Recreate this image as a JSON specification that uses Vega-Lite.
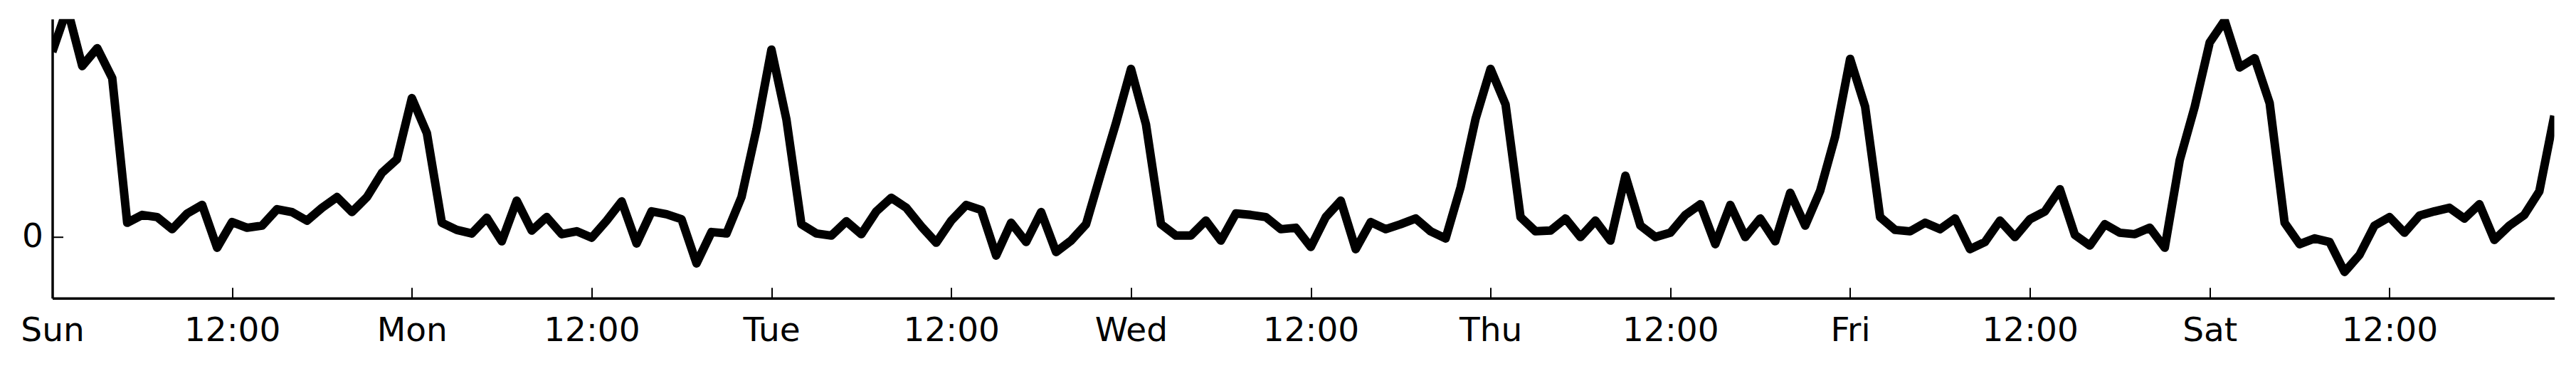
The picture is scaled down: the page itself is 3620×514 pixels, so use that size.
{
  "$schema": "https://vega.github.io/schema/vega-lite/v6.json",
  "width": 3516,
  "height": 392,
  "autosize": {"type": "none"},
  "padding": {"left": 73.5, "top": 26.7, "right": 30.5, "bottom": 95.3},
  "background": "white",
  "config": {"view": {"stroke": null}, "font": "DejaVu Sans"},
  "data": {"values": [
    {"time": "2023-01-01T00:00:00Z", "value": 2.60},
    {"time": "2023-01-01T01:00:00Z", "value": 3.21},
    {"time": "2023-01-01T02:00:00Z", "value": 2.40},
    {"time": "2023-01-01T03:00:00Z", "value": 2.65},
    {"time": "2023-01-01T04:00:00Z", "value": 2.23},
    {"time": "2023-01-01T05:00:00Z", "value": 0.20},
    {"time": "2023-01-01T06:00:00Z", "value": 0.31},
    {"time": "2023-01-01T07:00:00Z", "value": 0.28},
    {"time": "2023-01-01T08:00:00Z", "value": 0.11},
    {"time": "2023-01-01T09:00:00Z", "value": 0.33},
    {"time": "2023-01-01T10:00:00Z", "value": 0.45},
    {"time": "2023-01-01T11:00:00Z", "value": -0.15},
    {"time": "2023-01-01T12:00:00Z", "value": 0.21},
    {"time": "2023-01-01T13:00:00Z", "value": 0.13},
    {"time": "2023-01-01T14:00:00Z", "value": 0.16},
    {"time": "2023-01-01T15:00:00Z", "value": 0.39},
    {"time": "2023-01-01T16:00:00Z", "value": 0.35},
    {"time": "2023-01-01T17:00:00Z", "value": 0.23},
    {"time": "2023-01-01T18:00:00Z", "value": 0.41},
    {"time": "2023-01-01T19:00:00Z", "value": 0.56},
    {"time": "2023-01-01T20:00:00Z", "value": 0.35},
    {"time": "2023-01-01T21:00:00Z", "value": 0.56},
    {"time": "2023-01-01T22:00:00Z", "value": 0.90},
    {"time": "2023-01-01T23:00:00Z", "value": 1.09},
    {"time": "2023-01-02T00:00:00Z", "value": 1.95},
    {"time": "2023-01-02T01:00:00Z", "value": 1.46},
    {"time": "2023-01-02T02:00:00Z", "value": 0.20},
    {"time": "2023-01-02T03:00:00Z", "value": 0.10},
    {"time": "2023-01-02T04:00:00Z", "value": 0.05},
    {"time": "2023-01-02T05:00:00Z", "value": 0.27},
    {"time": "2023-01-02T06:00:00Z", "value": -0.06},
    {"time": "2023-01-02T07:00:00Z", "value": 0.51},
    {"time": "2023-01-02T08:00:00Z", "value": 0.09},
    {"time": "2023-01-02T09:00:00Z", "value": 0.28},
    {"time": "2023-01-02T10:00:00Z", "value": 0.04},
    {"time": "2023-01-02T11:00:00Z", "value": 0.08},
    {"time": "2023-01-02T12:00:00Z", "value": -0.01},
    {"time": "2023-01-02T13:00:00Z", "value": 0.23},
    {"time": "2023-01-02T14:00:00Z", "value": 0.50},
    {"time": "2023-01-02T15:00:00Z", "value": -0.09},
    {"time": "2023-01-02T16:00:00Z", "value": 0.36},
    {"time": "2023-01-02T17:00:00Z", "value": 0.32},
    {"time": "2023-01-02T18:00:00Z", "value": 0.25},
    {"time": "2023-01-02T19:00:00Z", "value": -0.37},
    {"time": "2023-01-02T20:00:00Z", "value": 0.07},
    {"time": "2023-01-02T21:00:00Z", "value": 0.05},
    {"time": "2023-01-02T22:00:00Z", "value": 0.56},
    {"time": "2023-01-02T23:00:00Z", "value": 1.51},
    {"time": "2023-01-03T00:00:00Z", "value": 2.63},
    {"time": "2023-01-03T01:00:00Z", "value": 1.65},
    {"time": "2023-01-03T02:00:00Z", "value": 0.18},
    {"time": "2023-01-03T03:00:00Z", "value": 0.05},
    {"time": "2023-01-03T04:00:00Z", "value": 0.02},
    {"time": "2023-01-03T05:00:00Z", "value": 0.22},
    {"time": "2023-01-03T06:00:00Z", "value": 0.04},
    {"time": "2023-01-03T07:00:00Z", "value": 0.36},
    {"time": "2023-01-03T08:00:00Z", "value": 0.55},
    {"time": "2023-01-03T09:00:00Z", "value": 0.41},
    {"time": "2023-01-03T10:00:00Z", "value": 0.15},
    {"time": "2023-01-03T11:00:00Z", "value": -0.08},
    {"time": "2023-01-03T12:00:00Z", "value": 0.23},
    {"time": "2023-01-03T13:00:00Z", "value": 0.45},
    {"time": "2023-01-03T14:00:00Z", "value": 0.38},
    {"time": "2023-01-03T15:00:00Z", "value": -0.26},
    {"time": "2023-01-03T16:00:00Z", "value": 0.20},
    {"time": "2023-01-03T17:00:00Z", "value": -0.07},
    {"time": "2023-01-03T18:00:00Z", "value": 0.35},
    {"time": "2023-01-03T19:00:00Z", "value": -0.21},
    {"time": "2023-01-03T20:00:00Z", "value": -0.05},
    {"time": "2023-01-03T21:00:00Z", "value": 0.18},
    {"time": "2023-01-03T22:00:00Z", "value": 0.90},
    {"time": "2023-01-03T23:00:00Z", "value": 1.60},
    {"time": "2023-01-04T00:00:00Z", "value": 2.36},
    {"time": "2023-01-04T01:00:00Z", "value": 1.58},
    {"time": "2023-01-04T02:00:00Z", "value": 0.18},
    {"time": "2023-01-04T03:00:00Z", "value": 0.02},
    {"time": "2023-01-04T04:00:00Z", "value": 0.02},
    {"time": "2023-01-04T05:00:00Z", "value": 0.23},
    {"time": "2023-01-04T06:00:00Z", "value": -0.05},
    {"time": "2023-01-04T07:00:00Z", "value": 0.33},
    {"time": "2023-01-04T08:00:00Z", "value": 0.31},
    {"time": "2023-01-04T09:00:00Z", "value": 0.28},
    {"time": "2023-01-04T10:00:00Z", "value": 0.11},
    {"time": "2023-01-04T11:00:00Z", "value": 0.13},
    {"time": "2023-01-04T12:00:00Z", "value": -0.14},
    {"time": "2023-01-04T13:00:00Z", "value": 0.28},
    {"time": "2023-01-04T14:00:00Z", "value": 0.51},
    {"time": "2023-01-04T15:00:00Z", "value": -0.17},
    {"time": "2023-01-04T16:00:00Z", "value": 0.21},
    {"time": "2023-01-04T17:00:00Z", "value": 0.11},
    {"time": "2023-01-04T18:00:00Z", "value": 0.18},
    {"time": "2023-01-04T19:00:00Z", "value": 0.26},
    {"time": "2023-01-04T20:00:00Z", "value": 0.08},
    {"time": "2023-01-04T21:00:00Z", "value": -0.02},
    {"time": "2023-01-04T22:00:00Z", "value": 0.70},
    {"time": "2023-01-04T23:00:00Z", "value": 1.66},
    {"time": "2023-01-05T00:00:00Z", "value": 2.36},
    {"time": "2023-01-05T01:00:00Z", "value": 1.86},
    {"time": "2023-01-05T02:00:00Z", "value": 0.28},
    {"time": "2023-01-05T03:00:00Z", "value": 0.08},
    {"time": "2023-01-05T04:00:00Z", "value": 0.09},
    {"time": "2023-01-05T05:00:00Z", "value": 0.26},
    {"time": "2023-01-05T06:00:00Z", "value": 0.00},
    {"time": "2023-01-05T07:00:00Z", "value": 0.23},
    {"time": "2023-01-05T08:00:00Z", "value": -0.05},
    {"time": "2023-01-05T09:00:00Z", "value": 0.86},
    {"time": "2023-01-05T10:00:00Z", "value": 0.16},
    {"time": "2023-01-05T11:00:00Z", "value": 0.00},
    {"time": "2023-01-05T12:00:00Z", "value": 0.06},
    {"time": "2023-01-05T13:00:00Z", "value": 0.31},
    {"time": "2023-01-05T14:00:00Z", "value": 0.46},
    {"time": "2023-01-05T15:00:00Z", "value": -0.10},
    {"time": "2023-01-05T16:00:00Z", "value": 0.45},
    {"time": "2023-01-05T17:00:00Z", "value": 0.00},
    {"time": "2023-01-05T18:00:00Z", "value": 0.26},
    {"time": "2023-01-05T19:00:00Z", "value": -0.06},
    {"time": "2023-01-05T20:00:00Z", "value": 0.62},
    {"time": "2023-01-05T21:00:00Z", "value": 0.16},
    {"time": "2023-01-05T22:00:00Z", "value": 0.65},
    {"time": "2023-01-05T23:00:00Z", "value": 1.41},
    {"time": "2023-01-06T00:00:00Z", "value": 2.50},
    {"time": "2023-01-06T01:00:00Z", "value": 1.83},
    {"time": "2023-01-06T02:00:00Z", "value": 0.28},
    {"time": "2023-01-06T03:00:00Z", "value": 0.10},
    {"time": "2023-01-06T04:00:00Z", "value": 0.08},
    {"time": "2023-01-06T05:00:00Z", "value": 0.20},
    {"time": "2023-01-06T06:00:00Z", "value": 0.11},
    {"time": "2023-01-06T07:00:00Z", "value": 0.26},
    {"time": "2023-01-06T08:00:00Z", "value": -0.17},
    {"time": "2023-01-06T09:00:00Z", "value": -0.07},
    {"time": "2023-01-06T10:00:00Z", "value": 0.23},
    {"time": "2023-01-06T11:00:00Z", "value": 0.00},
    {"time": "2023-01-06T12:00:00Z", "value": 0.25},
    {"time": "2023-01-06T13:00:00Z", "value": 0.36},
    {"time": "2023-01-06T14:00:00Z", "value": 0.67},
    {"time": "2023-01-06T15:00:00Z", "value": 0.03},
    {"time": "2023-01-06T16:00:00Z", "value": -0.12},
    {"time": "2023-01-06T17:00:00Z", "value": 0.18},
    {"time": "2023-01-06T18:00:00Z", "value": 0.06},
    {"time": "2023-01-06T19:00:00Z", "value": 0.04},
    {"time": "2023-01-06T20:00:00Z", "value": 0.13},
    {"time": "2023-01-06T21:00:00Z", "value": -0.15},
    {"time": "2023-01-06T22:00:00Z", "value": 1.08},
    {"time": "2023-01-06T23:00:00Z", "value": 1.83},
    {"time": "2023-01-07T00:00:00Z", "value": 2.73},
    {"time": "2023-01-07T01:00:00Z", "value": 3.04},
    {"time": "2023-01-07T02:00:00Z", "value": 2.38},
    {"time": "2023-01-07T03:00:00Z", "value": 2.51},
    {"time": "2023-01-07T04:00:00Z", "value": 1.88},
    {"time": "2023-01-07T05:00:00Z", "value": 0.20},
    {"time": "2023-01-07T06:00:00Z", "value": -0.10},
    {"time": "2023-01-07T07:00:00Z", "value": -0.02},
    {"time": "2023-01-07T08:00:00Z", "value": -0.07},
    {"time": "2023-01-07T09:00:00Z", "value": -0.49},
    {"time": "2023-01-07T10:00:00Z", "value": -0.25},
    {"time": "2023-01-07T11:00:00Z", "value": 0.16},
    {"time": "2023-01-07T12:00:00Z", "value": 0.28},
    {"time": "2023-01-07T13:00:00Z", "value": 0.06},
    {"time": "2023-01-07T14:00:00Z", "value": 0.30},
    {"time": "2023-01-07T15:00:00Z", "value": 0.36},
    {"time": "2023-01-07T16:00:00Z", "value": 0.41},
    {"time": "2023-01-07T17:00:00Z", "value": 0.26},
    {"time": "2023-01-07T18:00:00Z", "value": 0.46},
    {"time": "2023-01-07T19:00:00Z", "value": -0.04},
    {"time": "2023-01-07T20:00:00Z", "value": 0.16},
    {"time": "2023-01-07T21:00:00Z", "value": 0.31},
    {"time": "2023-01-07T22:00:00Z", "value": 0.64},
    {"time": "2023-01-07T23:00:00Z", "value": 1.70}
  ]},
  "mark": {"type": "line", "color": "black", "strokeWidth": 12, "strokeJoin": "round", "strokeCap": "butt", "clip": true},
  "encoding": {
    "x": {
      "field": "time", "type": "temporal",
      "scale": {"type": "utc", "nice": false},
      "axis": {
        "title": null, "grid": false,
        "values": [
          {"year": 2023, "month": 1, "date": 1, "hours": 0, "utc": true},
          {"year": 2023, "month": 1, "date": 1, "hours": 12, "utc": true},
          {"year": 2023, "month": 1, "date": 2, "hours": 0, "utc": true},
          {"year": 2023, "month": 1, "date": 2, "hours": 12, "utc": true},
          {"year": 2023, "month": 1, "date": 3, "hours": 0, "utc": true},
          {"year": 2023, "month": 1, "date": 3, "hours": 12, "utc": true},
          {"year": 2023, "month": 1, "date": 4, "hours": 0, "utc": true},
          {"year": 2023, "month": 1, "date": 4, "hours": 12, "utc": true},
          {"year": 2023, "month": 1, "date": 5, "hours": 0, "utc": true},
          {"year": 2023, "month": 1, "date": 5, "hours": 12, "utc": true},
          {"year": 2023, "month": 1, "date": 6, "hours": 0, "utc": true},
          {"year": 2023, "month": 1, "date": 6, "hours": 12, "utc": true},
          {"year": 2023, "month": 1, "date": 7, "hours": 0, "utc": true},
          {"year": 2023, "month": 1, "date": 7, "hours": 12, "utc": true}
        ],
        "labelExpr": "utchours(datum.value) == 0 ? utcFormat(datum.value, '%a') : '12:00'",
        "domainColor": "black", "domainWidth": 3.5,
        "tickColor": "black", "tickWidth": 2, "tickSize": -15,
        "labelPadding": 38, "labelFontSize": 47, "labelColor": "black", "labelFont": "DejaVu Sans",
        "labelFlush": false, "labelOverlap": false
      }
    },
    "y": {
      "field": "value", "type": "quantitative",
      "scale": {"domain": [-0.858, 3.06], "nice": false, "zero": false},
      "axis": {
        "title": null, "grid": false, "values": [0],
        "domainColor": "black", "domainWidth": 3.5,
        "tickColor": "black", "tickWidth": 2, "tickSize": -15,
        "labelPadding": 28, "labelFontSize": 47, "labelColor": "black", "labelFont": "DejaVu Sans"
      }
    }
  }
}
